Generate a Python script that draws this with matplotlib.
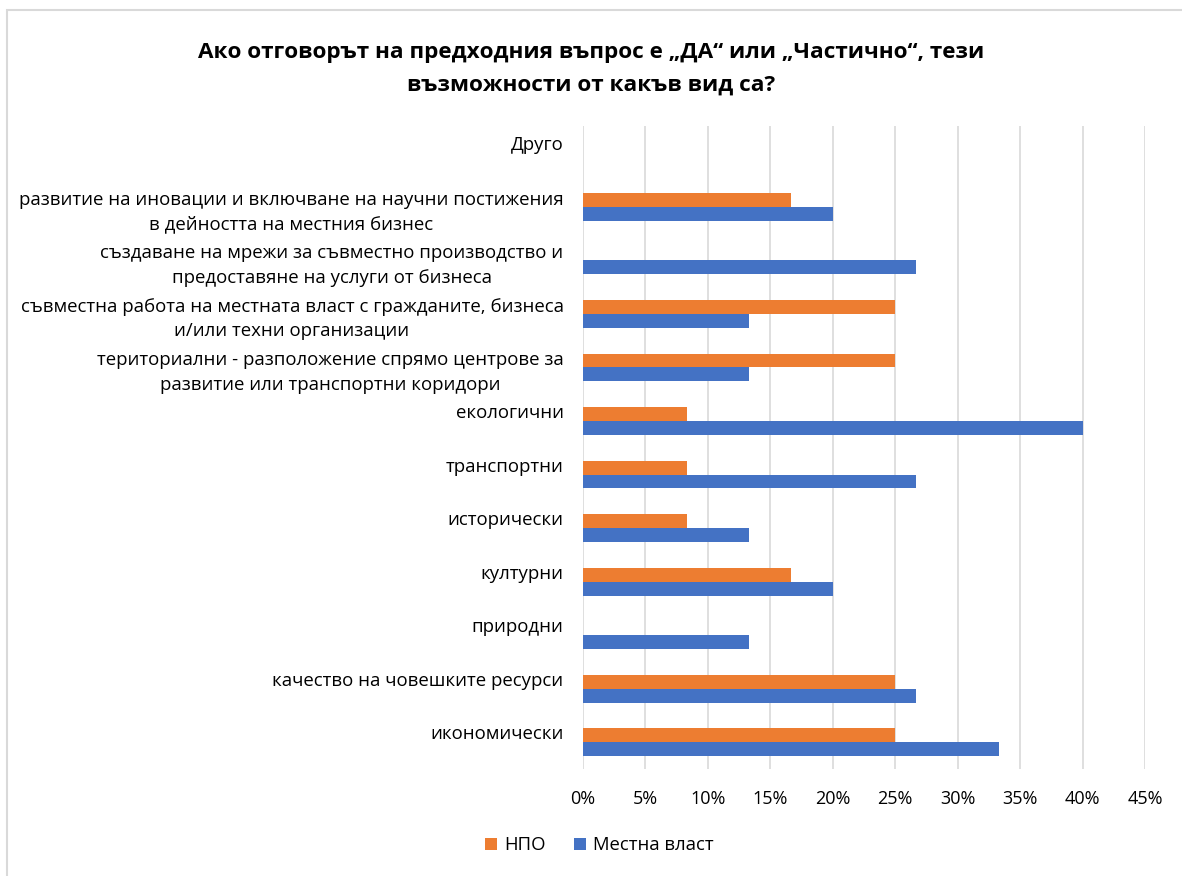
import matplotlib.pyplot as plt
import matplotlib.transforms as mtransforms
from matplotlib.patches import Rectangle
from matplotlib.ticker import PercentFormatter
import numpy as np

plt.rcParams['font.family'] = ['Open Sans', 'DejaVu Sans']

# categories from bottom to top
categories = [
    "икономически",
    "качество на човешките ресурси",
    "природни",
    "културни",
    "исторически",
    "транспортни",
    "екологични",
    "териториални - разположение спрямо центрове за\nразвитие или транспортни коридори",
    "съвместна работа на местната власт с гражданите, бизнеса\nи/или техни организации",
    "създаване на мрежи за съвместно производство и\nпредоставяне на услуги от бизнеса",
    "развитие на иновации и включване на научни постижения\nв дейността на местния бизнес",
    "Друго",
]
npo = [25, 25, 0, 16.67, 8.33, 8.33, 8.33, 25, 25, 0, 16.67, 0]
mestna_vlast = [33.33, 26.67, 13.33, 20, 13.33, 26.67, 40, 13.33, 13.33, 26.67, 20, 0]
xticks = [0, 5, 10, 15, 20, 25, 30, 35, 40, 45]

fig = plt.figure(figsize=(11.82, 8.76), dpi=100)
ax = fig.add_axes([0.4932, 0.1221, 0.4755, 0.7335])

y = np.arange(len(categories))
h = 0.26
ax.barh(y + h / 2, npo, height=h, color="#ED7D31", label="НПО", zorder=3)
ax.barh(y - h / 2, mestna_vlast, height=h, color="#4472C4", label="Местна власт", zorder=3)

ax.set_xlim(0, 45)
ax.set_ylim(-0.5, len(categories) - 0.5)
ax.set_xticks(xticks)
ax.xaxis.set_major_formatter(PercentFormatter(decimals=0))
ax.set_yticks(y)
ax.set_yticklabels(categories, fontsize=13.4, multialignment="center", linespacing=1.45)
ax.tick_params(axis="x", labelsize=13, length=0, pad=15)
ax.tick_params(axis="y", length=0, pad=14)
ax.grid(axis="x", color="#D9D9D9", linewidth=1.2, zorder=0)
for s in ax.spines.values():
    s.set_visible(False)

# single-line labels sit a bit higher than the bar centre
shift = mtransforms.ScaledTranslation(0, 0.1, fig.dpi_scale_trans)
for lbl in ax.get_yticklabels():
    if "\n" not in lbl.get_text():
        lbl.set_transform(lbl.get_transform() + shift)

fig.suptitle("Ако отговорът на предходния въпрос е „ДА“ или „Частично“, тези\nвъзможности от какъв вид са?",
             x=0.5, y=0.952, fontsize=16.2, fontweight="bold", linespacing=1.75)

fig.legend(loc="center", bbox_to_anchor=(0.507, 0.035), ncol=2, frameon=False,
           fontsize=13.3, handlelength=0.65, handleheight=0.65, columnspacing=1.5, handletextpad=0.4)

fig.add_artist(Rectangle((7 / 1182, -0.01), 1.2, 1 - 10 / 876 + 0.01, transform=fig.transFigure,
                         fill=False, edgecolor="#D9D9D9", linewidth=1.5))

fig.savefig("out.png", dpi=100)
